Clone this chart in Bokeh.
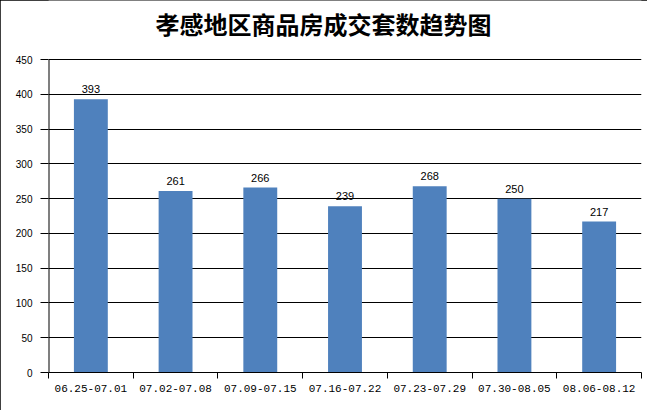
from bokeh.plotting import figure
from bokeh.models import Range1d, FixedTicker, ColumnDataSource, Label
from bokeh.core.properties import value
from bokeh.embed import file_html
from bokeh.resources import INLINE

title_text = "孝感地区商品房成交套数趋势图"
categories = ["06.25-07.01", "07.02-07.08", "07.09-07.15", "07.16-07.22",
              "07.23-07.29", "07.30-08.05", "08.06-08.12"]
counts = [393, 261, 266, 239, 268, 250, 217]
y_ticks = [0, 50, 100, 150, 200, 250, 300, 350, 400, 450]

idx = list(range(len(categories)))
bounds = [i - 0.5 for i in range(len(categories) + 1)]
x_start = -0.5

src = ColumnDataSource(dict(x=idx, y=counts, lab=[str(v) for v in counts]))

# frame runs to the top of the canvas so the title (drawn inside it) is not clipped
p = figure(width=647, height=410, output_backend="svg", toolbar_location=None,
           x_range=Range1d(x_start, len(categories) - 0.5), y_range=Range1d(0, 535),
           min_border_left=48, min_border_top=0, min_border_right=6, min_border_bottom=38)
p.outline_line_color = None
p.background_fill_color = "white"
p.border_fill_color = "white"
p.styles = {"outline": "1px solid black", "outline-offset": "-1px"}

# screen units here are measured from the frame's bottom-left corner
title = Label(x=275, y=349, x_units="screen", y_units="screen", text=title_text,
              text_align="center", text_baseline="middle",
              text_font="Noto Sans CJK SC", text_font_style="bold",
              text_font_size="24px", text_color="black")
p.add_layout(title)

p.vbar(x="x", top="y", width=0.4, source=src, fill_color="#4F81BD", line_color=None)
p.text(x="x", y="y", text="lab", source=src, text_align="center", text_baseline="alphabetic",
       y_offset=-10, text_font=value("Liberation Sans"), text_font_size="11px", text_color="black")

# value-axis line from 0 to the top tick only
p.segment(x0=[x_start], y0=[y_ticks[0]], x1=[x_start], y1=[y_ticks[-1]],
          line_color="black", line_width=2)

# axes
p.xgrid.visible = False
p.ygrid.grid_line_color = "black"
p.ygrid.grid_line_width = 1
p.ygrid.ticker = FixedTicker(ticks=y_ticks)

xa = p.xaxis[0]
xa.ticker = FixedTicker(ticks=idx, minor_ticks=bounds)
xa.major_label_overrides = {i: c for i, c in zip(idx, categories)}
xa.major_tick_line_color = None
xa.major_tick_in = 0
xa.major_tick_out = 0
xa.minor_tick_line_color = "black"
xa.minor_tick_in = 0
xa.minor_tick_out = 6
xa.axis_line_color = "black"
xa.major_label_standoff = 6
xa.major_label_text_font = "Liberation Mono"
xa.major_label_text_font_size = "11px"
xa.major_label_text_color = "black"

ya = p.yaxis[0]
ya.ticker = FixedTicker(ticks=y_ticks)
ya.minor_tick_line_color = None
ya.major_tick_in = 0
ya.major_tick_out = 8
ya.major_tick_line_color = "black"
ya.axis_line_color = None
ya.major_label_standoff = 8
ya.major_label_text_font = "Liberation Sans"
ya.major_label_text_font_size = "10px"
ya.major_label_text_color = "black"

open("out.html", "w").write(file_html(p, INLINE))
